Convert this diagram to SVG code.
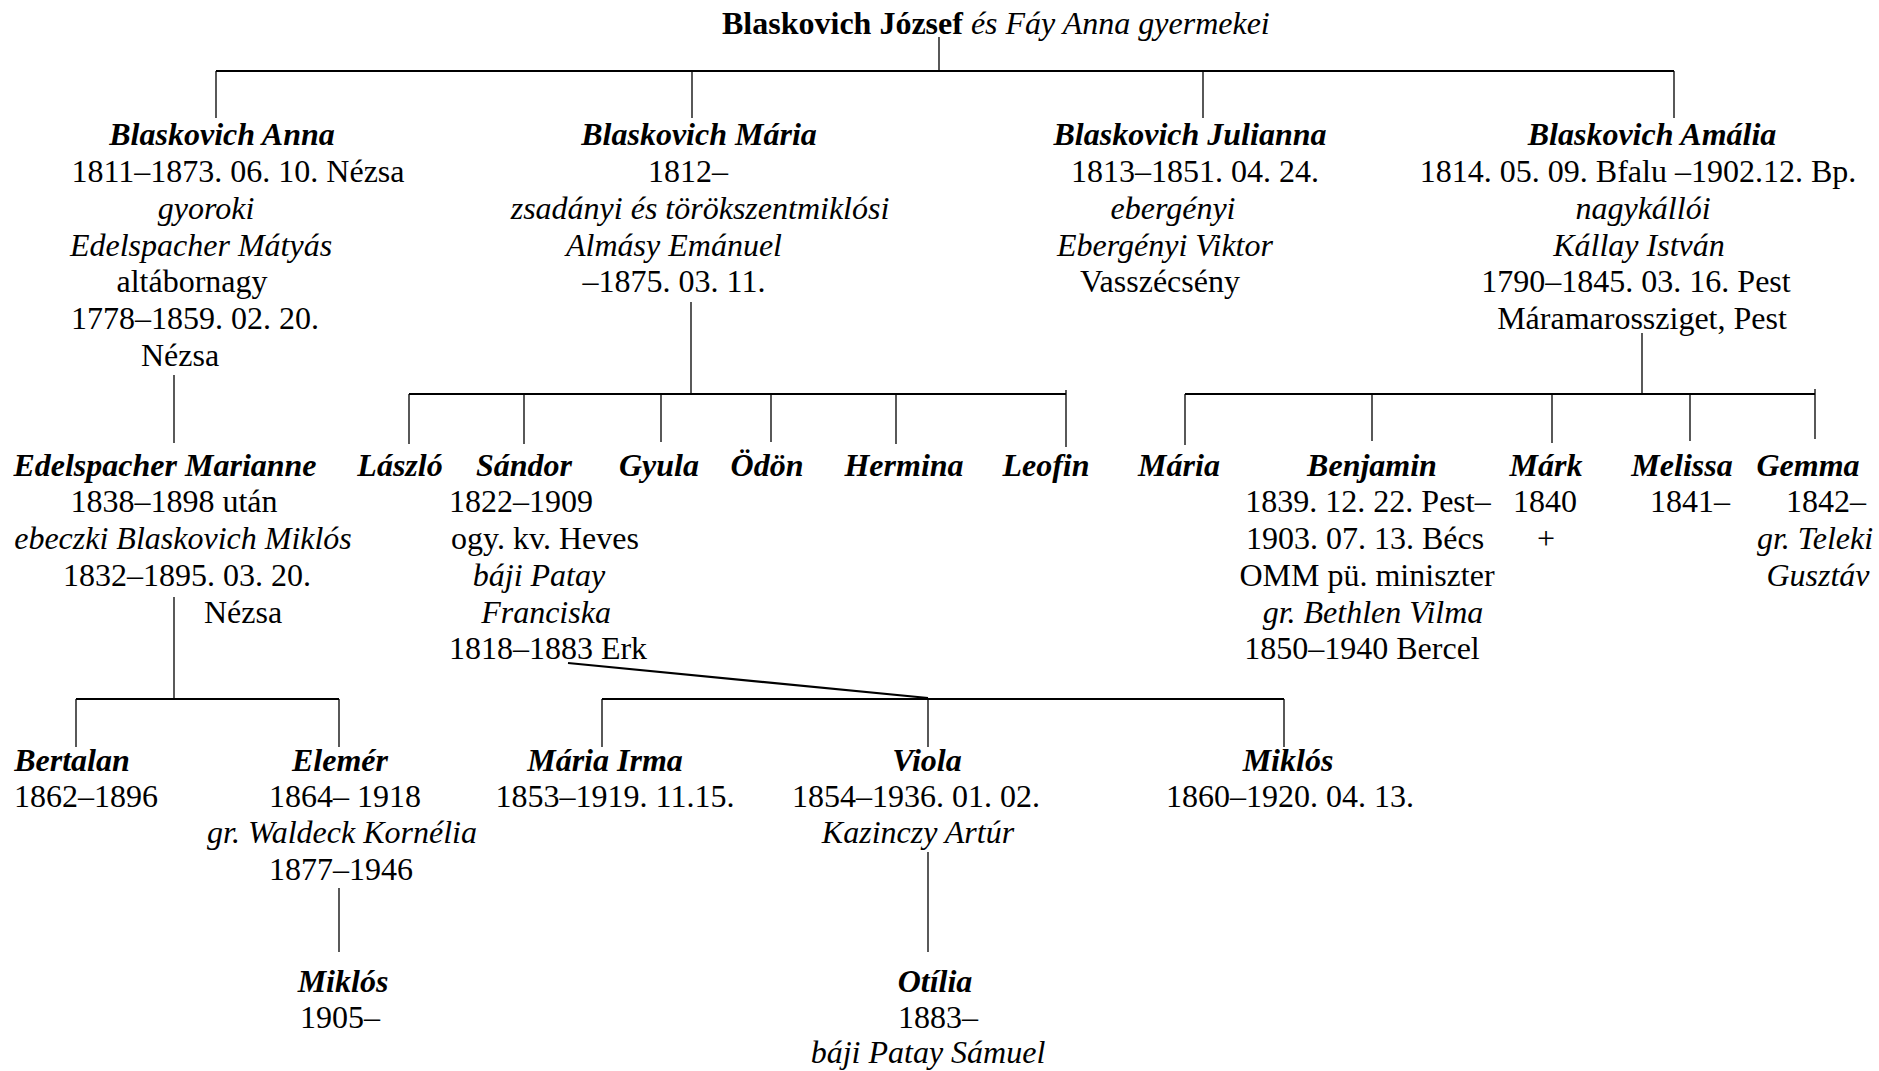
<svg xmlns="http://www.w3.org/2000/svg" width="1879" height="1071" viewBox="0 0 1879 1071">
<style>
text{font-family:"Liberation Serif","Times New Roman",serif;font-size:32px;fill:#000;text-anchor:middle}
.n{font-weight:bold;font-style:italic}
.i{font-style:italic}
.b{font-weight:bold}
.h{stroke:#000;stroke-width:2.2;fill:none}
.v{stroke:#000;stroke-width:1.3;fill:none}
</style>
<rect width="1879" height="1071" fill="#fff"/>
<g id="connectors">
<path class="h" d="M216 71H1674"/>
<path class="v" d="M939 37V71M216 71V118M692 71V118M1203 71V118M1674 71V118"/>
<path class="v" d="M174 375V443"/>
<path class="v" d="M691 302V393"/>
<path class="h" d="M409 394H1066"/>
<path class="v" d="M409 394V444M524 394V444M661 394V442M771 394V442M896 394V444M1066 390V447"/>
<path class="v" d="M1642 333V393"/>
<path class="h" d="M1185 394H1815"/>
<path class="v" d="M1185 394V445M1372 394V441M1552 394V443M1690 394V441M1815 389V439"/>
<path class="v" d="M174 597V699"/>
<path class="h" d="M76 699H339"/>
<path class="v" d="M76 699V747M339 699V747"/>
<path class="v" d="M339 888V952"/>
<path class="h" d="M568 663L928 698"/>
<path class="h" d="M602 699H1284"/>
<path class="v" d="M602 699V747M928 699V747M1284 699V747"/>
<path class="v" d="M928 852V952"/>
</g>
<g id="title">
<text x="722" y="34" style="text-anchor:start"><tspan class="b">Blaskovich József</tspan><tspan class="i"> és Fáy Anna gyermekei</tspan></text>
</g>
<g id="anna">
<text class="n" x="222" y="145">Blaskovich Anna</text>
<text x="238" y="182">1811–1873. 06. 10. Nézsa</text>
<text class="i" x="206" y="219">gyoroki</text>
<text class="i" x="201" y="256">Edelspacher Mátyás</text>
<text x="192" y="292">altábornagy</text>
<text x="195" y="329">1778–1859. 02. 20.</text>
<text x="180" y="366">Nézsa</text>
</g>
<g id="maria">
<text class="n" x="699" y="145">Blaskovich Mária</text>
<text x="688" y="182">1812–</text>
<text class="i" x="700" y="219">zsadányi és törökszentmiklósi</text>
<text class="i" x="674" y="256">Almásy Emánuel</text>
<text x="674" y="292">–1875. 03. 11.</text>
</g>
<g id="julianna">
<text class="n" x="1190" y="145">Blaskovich Julianna</text>
<text x="1195" y="182">1813–1851. 04. 24.</text>
<text class="i" x="1173" y="219">ebergényi</text>
<text class="i" x="1165" y="256">Ebergényi Viktor</text>
<text x="1160" y="292">Vasszécsény</text>
</g>
<g id="amalia">
<text class="n" x="1652" y="145">Blaskovich Amália</text>
<text x="1638" y="182">1814. 05. 09. Bfalu –1902.12. Bp.</text>
<text class="i" x="1643" y="219">nagykállói</text>
<text class="i" x="1639" y="256">Kállay István</text>
<text x="1636" y="292">1790–1845. 03. 16. Pest</text>
<text x="1642" y="329">Máramarossziget, Pest</text>
</g>
<g id="marianne">
<text class="n" x="165" y="476">Edelspacher Marianne</text>
<text x="174" y="512">1838–1898 után</text>
<text class="i" x="183" y="549">ebeczki Blaskovich Miklós</text>
<text x="187" y="586">1832–1895. 03. 20.</text>
<text x="243" y="623">Nézsa</text>
</g>
<g id="laszlo"><text class="n" x="400" y="476">László</text></g>
<g id="sandor">
<text class="n" x="524" y="476">Sándor</text>
<text x="521" y="512">1822–1909</text>
<text x="545" y="549">ogy. kv. Heves</text>
<text class="i" x="539" y="586">báji Patay</text>
<text class="i" x="546" y="623">Franciska</text>
<text x="548" y="659">1818–1883 Erk</text>
</g>
<g id="gyula"><text class="n" x="659" y="476">Gyula</text></g>
<g id="odon"><text class="n" x="767" y="476">Ödön</text></g>
<g id="hermina"><text class="n" x="904" y="476">Hermina</text></g>
<g id="leofin"><text class="n" x="1046" y="476">Leofin</text></g>
<g id="maria2"><text class="n" x="1179" y="476">Mária</text></g>
<g id="benjamin">
<text class="n" x="1372" y="476">Benjamin</text>
<text x="1368" y="512">1839. 12. 22. Pest–</text>
<text x="1365" y="549">1903. 07. 13. Bécs</text>
<text x="1367" y="586">OMM pü. miniszter</text>
<text class="i" x="1373" y="623">gr. Bethlen Vilma</text>
<text x="1362" y="659">1850–1940 Bercel</text>
</g>
<g id="mark">
<text class="n" x="1546" y="476">Márk</text>
<text x="1545" y="512">1840</text>
<text x="1546" y="549">+</text>
</g>
<g id="melissa">
<text class="n" x="1682" y="476">Melissa</text>
<text x="1690" y="512">1841–</text>
</g>
<g id="gemma">
<text class="n" x="1808" y="476">Gemma</text>
<text x="1826" y="512">1842–</text>
<text class="i" x="1815" y="549">gr. Teleki</text>
<text class="i" x="1818" y="586">Gusztáv</text>
</g>
<g id="bertalan">
<text class="n" x="72" y="771">Bertalan</text>
<text x="86" y="807">1862–1896</text>
</g>
<g id="elemer">
<text class="n" x="340" y="771">Elemér</text>
<text x="345" y="807">1864– 1918</text>
<text class="i" x="342" y="843">gr. Waldeck Kornélia</text>
<text x="341" y="880">1877–1946</text>
</g>
<g id="miklos2">
<text class="n" x="343" y="992">Miklós</text>
<text x="340" y="1028">1905–</text>
</g>
<g id="mariairma">
<text class="n" x="605" y="771">Mária Irma</text>
<text x="615" y="807">1853–1919. 11.15.</text>
</g>
<g id="viola">
<text class="n" x="927" y="771">Viola</text>
<text x="916" y="807">1854–1936. 01. 02.</text>
<text class="i" x="918" y="843">Kazinczy Artúr</text>
</g>
<g id="miklos3">
<text class="n" x="1288" y="771">Miklós</text>
<text x="1290" y="807">1860–1920. 04. 13.</text>
</g>
<g id="otilia">
<text class="n" x="935" y="992">Otília</text>
<text x="938" y="1028">1883–</text>
<text class="i" x="928" y="1063">báji Patay Sámuel</text>
</g>
</svg>
